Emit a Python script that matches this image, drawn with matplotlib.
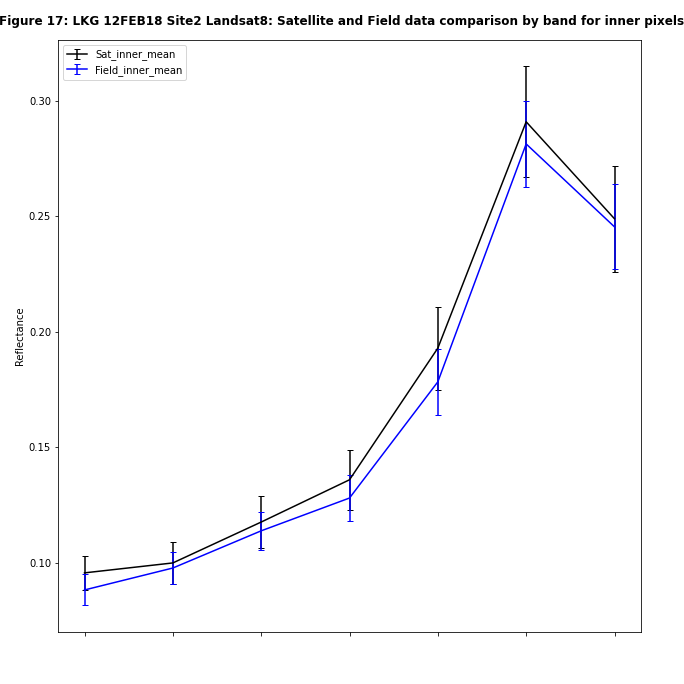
import matplotlib
matplotlib.use("Agg")
import matplotlib.pyplot as plt

bands = [0, 1, 2, 3, 4, 5, 6]
sat_mean = [0.0957, 0.100, 0.1177, 0.136, 0.193, 0.291, 0.249]
sat_err = [0.0074, 0.009, 0.0113, 0.013, 0.018, 0.024, 0.023]
field_mean = [0.0883, 0.0978, 0.1139, 0.1281, 0.1784, 0.2814, 0.2455]
field_err = [0.0067, 0.007, 0.0082, 0.010, 0.0143, 0.0186, 0.0184]

fig = plt.figure(figsize=(9.5, 9.5), dpi=72)
ax = fig.add_axes([58/684, 52/684, 583/684, 592/684])
ax.errorbar(bands, sat_mean, yerr=sat_err, color='black', capsize=3, label='Sat_inner_mean', lw=1.5)
ax.errorbar(bands, field_mean, yerr=field_err, color='blue', capsize=3, label='Field_inner_mean', lw=1.5)
ax.set_ylim(0.0701, 0.3264)
ax.set_yticks([0.10, 0.15, 0.20, 0.25, 0.30])
ax.set_xticks(bands)
ax.set_xticklabels([])
ax.set_ylabel("Reflectance")
ax.legend(loc='upper left')
fig.suptitle("Figure 17: LKG 12FEB18 Site2 Landsat8: Satellite and Field data comparison by band for inner pixels",
             fontweight='bold', fontsize=12, y=0.978)
fig.savefig("out.png")
